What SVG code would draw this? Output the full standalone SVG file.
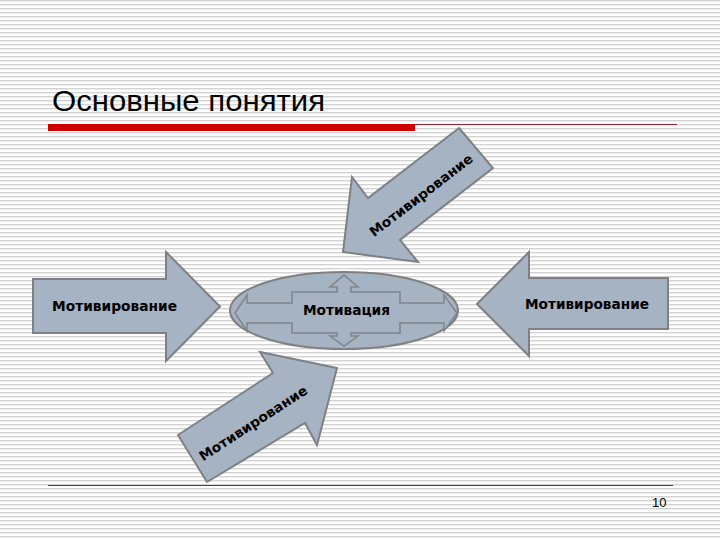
<svg xmlns="http://www.w3.org/2000/svg" width="720" height="540" viewBox="0 0 720 540">
  <defs>
    <pattern id="stripes" x="0" y="0" width="8" height="4" patternUnits="userSpaceOnUse">
      <rect x="0" y="0" width="8" height="4" fill="#ffffff"/>
      <rect x="0" y="0" width="8" height="1.4" fill="#d3d3d3"/>
    </pattern>
    <style>
      .arrow { fill: #a5b3c3; stroke: #7d8084; stroke-width: 2; stroke-linejoin: miter; }
      .oval { fill: #a5b3c3; stroke: #808080; stroke-width: 2; }
      .cross { fill: #a5b3c3; stroke: #7d848c; stroke-width: 1.5; }
      .lbl { font-family: "DejaVu Sans", Verdana, sans-serif; font-weight: bold; font-size: 13.5px; fill: #000000; }
      .title { font-family: "Liberation Sans", Arial, sans-serif; font-size: 30px; fill: #000000; }
      .num { font-family: "Liberation Sans", Arial, sans-serif; font-size: 13px; fill: #000000; }
    </style>
  </defs>

  <rect x="0" y="0" width="720" height="540" fill="url(#stripes)"/>

  <!-- title and rules -->
  <text class="title" x="52" y="111" textLength="273" lengthAdjust="spacingAndGlyphs">Основные понятия</text>
  <line x1="415" y1="124.5" x2="677" y2="124.5" stroke="#8c2330" stroke-width="1"/>
  <rect x="48" y="124" width="367" height="7" fill="#cc0000"/>
  <line x1="48" y1="485.5" x2="673" y2="485.5" stroke="#8b2030" stroke-width="1.2"/>
  <text class="num" x="652" y="507">10</text>

  <g id="connectors">
    <g id="arrow-top">
      <polygon class="arrow" points="459,128 493,168 400,240 418,262 343,252 352,177 368,198"/>
      <text class="lbl" x="0" y="0" text-anchor="middle" dominant-baseline="central" textLength="126" lengthAdjust="spacingAndGlyphs" font-size="16" transform="translate(421,195) rotate(-37.5)">Мотивирование</text>
    </g>
    <g id="arrow-left">
      <polygon class="arrow" points="33,279 166,279 166,252 220,306.5 166,361 166,333 33,333"/>
      <text class="lbl" x="52" y="311" textLength="125" lengthAdjust="spacingAndGlyphs">Мотивирование</text>
    </g>
    <g id="arrow-right">
      <polygon class="arrow" points="477,304 529,252 529,278 668,278 668,329 529,329 529,356"/>
      <text class="lbl" x="525" y="309" textLength="124" lengthAdjust="spacingAndGlyphs">Мотивирование</text>
    </g>
    <g id="arrow-bottom">
      <polygon class="arrow" points="178,435 273,373 260,352 337,368 317,445 305,423 207,482"/>
      <text class="lbl" x="0" y="0" text-anchor="middle" dominant-baseline="central" textLength="126" lengthAdjust="spacingAndGlyphs" font-size="16" transform="translate(253,423) rotate(-33)">Мотивирование</text>
    </g>
  </g>

  <g id="node-motivation">
    <ellipse class="oval" cx="344" cy="310.5" rx="114" ry="38.5"/>
    <polygon class="cross" points="235,313 247,295 247,303 292,303 292,292 337,292 337,287 330,287 344,275 358,287 351,287 351,292 400,292 400,303 444,303 444,295 457,313 444,331 444,323 400,323 400,333 351,333 351,336 358,336 344,346 330,336 337,336 337,333 292,333 292,323 247,323 247,331"/>
    <text class="lbl" x="303" y="315" textLength="87" lengthAdjust="spacingAndGlyphs">Мотивация</text>
  </g>
</svg>
